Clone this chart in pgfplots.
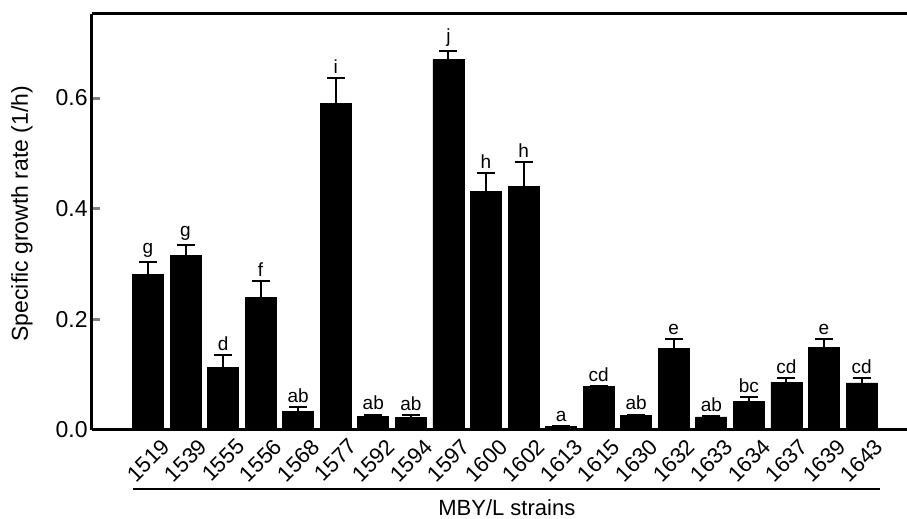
\documentclass[border=0pt]{standalone}
\usepackage{pgfplots}
\pgfplotsset{compat=1.18}
\usepackage{pgfplotstable}
\usepackage{fontspec}
\setmainfont{Liberation Sans}

% strain index, mean rate, SD (upper bar only), letter group
\pgfplotstableread{
x  y      e      lab
0  0.281  0.023  g
1  0.316  0.018  g
2  0.113  0.023  d
3  0.240  0.029  f
4  0.034  0.007  ab
5  0.590  0.046  i
6  0.025  0.003  ab
7  0.022  0.005  ab
8  0.670  0.016  j
9  0.432  0.032  h
10 0.441  0.043  h
11 0.006  0.001  a
12 0.078  0.001  cd
13 0.027  0.001  ab
14 0.148  0.016  e
15 0.0235 0.0025 ab
16 0.052  0.008  bc
17 0.086  0.0085 cd
18 0.149  0.015  e
19 0.085  0.009  cd
}\rates

\begin{document}
\begin{tikzpicture}
\begin{axis}[
  scale only axis,
  width=407.5pt, height=208pt,
  xmin=-1.49, xmax=20.21,
  ymin=0, ymax=0.752,
  axis x line*=box,
  axis y line*=left,
  axis line style={line width=1.5pt},
  xtick=data,
  xticklabels={1519,1539,1555,1556,1568,1577,1592,1594,1597,1600,1602,1613,1615,1630,1632,1633,1634,1637,1639,1643},
  xtick style={draw=none},
  xticklabel style={font=\fontsize{11}{13}\selectfont, xshift=6pt, yshift=-3.5pt, rotate=45, anchor=north east, inner sep=0pt},
  ytick={0,0.2,0.4,0.6},
  yticklabels={0.0,0.2,0.4,0.6},
  ytick pos=left,
  tick align=inside,
  major tick length=4pt,
  ytick style={line width=1.5pt},
  yticklabel style={font=\fontsize{11.5}{13}\selectfont, inner sep=2pt},
  ylabel={Specific growth rate (1/h)},
  every axis y label/.style={at={(rel axis cs:-0.086,0.52)}, rotate=90, anchor=center, font=\fontsize{11.5}{13}\selectfont},
  xlabel={MBY/L strains},
  every axis x label/.style={at={(rel axis cs:0.509,0)}, yshift=-39pt, anchor=center, font=\fontsize{11}{13}\selectfont},
  clip=false,
]
\addplot[ybar, bar width=15.5pt, fill=black, draw=black,
  error bars/.cd, y dir=plus, y explicit,
  error bar style={line width=1pt, black},
  error mark options={line width=1pt, mark size=4.5pt, rotate=90}]
  table[x=x, y=y, y error=e] {\rates};
\addplot[draw=none, nodes near coords, point meta=explicit symbolic,
  nodes near coords style={font=\fontsize{9.5}{11}\selectfont, anchor=south, inner sep=0pt, yshift=2pt}]
  table[x=x, y expr=\thisrow{y}+\thisrow{e}, meta=lab] {\rates};
\draw[line width=0.6pt] ([yshift=-29.5pt]rel axis cs:0.0503,0) -- ([yshift=-29.5pt]rel axis cs:0.967,0);
\coordinate (tl) at (rel axis cs:0,1);
\coordinate (br) at (rel axis cs:1,0);
\end{axis}
\pgfresetboundingbox
\path ([xshift=-46pt,yshift=7pt]tl) rectangle ([yshift=-44.5pt]br);
\end{tikzpicture}
\end{document}
